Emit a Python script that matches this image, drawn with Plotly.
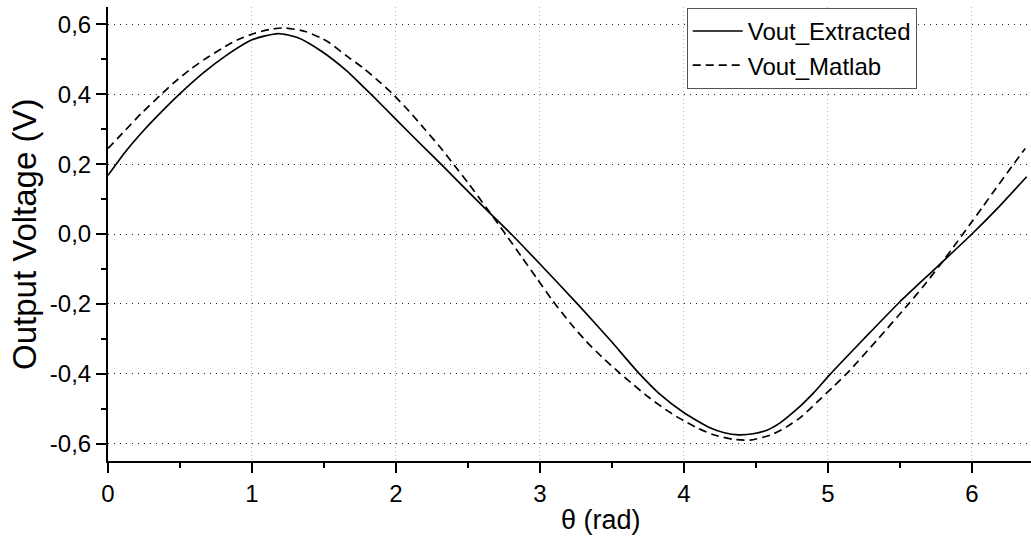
import plotly.graph_objects as go

# ── Data ──────────────────────────────────────────────────────────────────────
theta_extracted = [0.00, 0.12, 0.26, 0.40, 0.50, 0.67, 0.81, 1.00, 1.18, 1.32,
                   1.48, 1.65, 1.77, 1.84, 2.00, 2.16, 2.33, 2.45, 2.61, 2.80,
                   3.00, 3.26, 3.49, 3.69, 3.83, 4.00, 4.18, 4.28, 4.38, 4.48,
                   4.58, 4.67, 4.76, 4.83, 4.90, 5.01, 5.25, 5.50, 5.74, 6.00,
                   6.18, 6.38]
vout_extracted = [0.168, 0.235, 0.302, 0.362, 0.402, 0.464, 0.508, 0.556, 0.574, 0.562,
                  0.524, 0.470, 0.423, 0.395, 0.328, 0.262, 0.193, 0.143, 0.077, 0.000,
                  -0.086, -0.200, -0.305, -0.400, -0.458, -0.512, -0.555, -0.569, -0.575, -0.572,
                  -0.561, -0.540, -0.510, -0.484, -0.455, -0.404, -0.300, -0.194, -0.101, 0.000,
                  0.075, 0.164]

theta_matlab = [0.00, 0.12, 0.23, 0.36, 0.46, 0.58, 0.67, 0.79, 0.90, 1.02,
                1.14, 1.23, 1.37, 1.48, 1.54, 1.65, 1.77, 1.89, 1.97, 2.09,
                2.20, 2.31, 2.39, 2.51, 2.63, 2.76, 2.87, 2.98, 3.09, 3.21,
                3.32, 3.43, 3.55, 3.65, 3.75, 3.87, 3.97, 4.09, 4.20, 4.34,
                4.46, 4.60, 4.71, 4.81, 4.92, 5.03, 5.13, 5.34, 5.56, 5.66,
                5.77, 5.87, 5.98, 6.07, 6.16, 6.28, 6.37]
vout_matlab = [0.245, 0.297, 0.345, 0.396, 0.434, 0.474, 0.500, 0.531, 0.556, 0.575,
               0.587, 0.590, 0.580, 0.561, 0.547, 0.512, 0.476, 0.434, 0.404, 0.352,
               0.300, 0.247, 0.205, 0.141, 0.074, 0.000, -0.064, -0.128, -0.192, -0.255,
               -0.307, -0.352, -0.397, -0.432, -0.466, -0.502, -0.528, -0.555, -0.574, -0.588,
               -0.590, -0.576, -0.553, -0.525, -0.483, -0.440, -0.400, -0.304, -0.200, -0.151,
               -0.093, -0.038, 0.024, 0.075, 0.127, 0.195, 0.245]

x_ticks = [0, 1, 2, 3, 4, 5, 6]
y_ticks = [-0.6, -0.4, -0.2, 0.0, 0.2, 0.4, 0.6]
y_labels = ["-0,6", "-0,4", "-0,2", "0,0", "0,2", "0,4", "0,6"]

FONT = "Liberation Sans, Arial, sans-serif"

# ── Figure ────────────────────────────────────────────────────────────────────
fig = go.Figure()

fig.add_trace(go.Scatter(
    x=theta_extracted, y=vout_extracted,
    mode="lines", name="Vout_Extracted",
    line=dict(color="black", width=1.7, shape="spline", smoothing=0.6),
))
fig.add_trace(go.Scatter(
    x=theta_matlab, y=vout_matlab,
    mode="lines", name="Vout_Matlab",
    line=dict(color="black", width=1.7, dash="8px,5px", shape="spline", smoothing=0.6),
))

fig.update_layout(
    width=1031, height=537,
    margin=dict(l=108, r=0, t=7, b=76),
    plot_bgcolor="white", paper_bgcolor="white",
    font=dict(family=FONT, size=24, color="black"),
    showlegend=True,
    legend=dict(
        x=0.627, y=0.998, xanchor="left", yanchor="top",
        bgcolor="white", bordercolor="#555555", borderwidth=1,
        font=dict(family=FONT, size=24, color="black"),
        itemwidth=50, tracegroupgap=0,
    ),
    annotations=[
        dict(text="θ (rad)", xref="paper", yref="paper", x=0.534, y=-0.13,
             xanchor="center", yanchor="middle", showarrow=False,
             font=dict(family=FONT, size=27, color="black")),
        dict(text="Output Voltage (V)", xref="paper", yref="paper", x=-0.091, y=0.5,
             xanchor="center", yanchor="middle", textangle=-90, showarrow=False,
             font=dict(family=FONT, size=33, color="black")),
    ],
)

fig.update_xaxes(
    range=[0, 6.41], tickvals=x_ticks,
    showline=True, linecolor="black", linewidth=2,
    ticks="outside", ticklen=10, tickwidth=2, tickcolor="black",
    minor=dict(dtick=0.5, ticks="outside", ticklen=5, tickwidth=2, tickcolor="black", showgrid=False),
    showgrid=True, gridcolor="#b4b4b4", gridwidth=1, griddash="1px,3px",
    zeroline=False, tickfont=dict(family=FONT, size=24),
)
fig.update_yaxes(
    range=[-0.65, 0.65], tickvals=y_ticks, ticktext=y_labels,
    showline=True, linecolor="black", linewidth=2,
    ticks="outside", ticklen=10, tickwidth=2, tickcolor="black",
    minor=dict(dtick=0.1, tick0=0, ticks="outside", ticklen=5, tickwidth=2, tickcolor="black", showgrid=False),
    showgrid=True, gridcolor="#222222", gridwidth=1, griddash="1px,5px",
    zeroline=False, tickfont=dict(family=FONT, size=24),
)

# the page's default 8px body margin would shift the figure inside the window
fig.write_html("out.html", config={"displayModeBar": False},
               post_script="document.body.style.margin='0px';")
